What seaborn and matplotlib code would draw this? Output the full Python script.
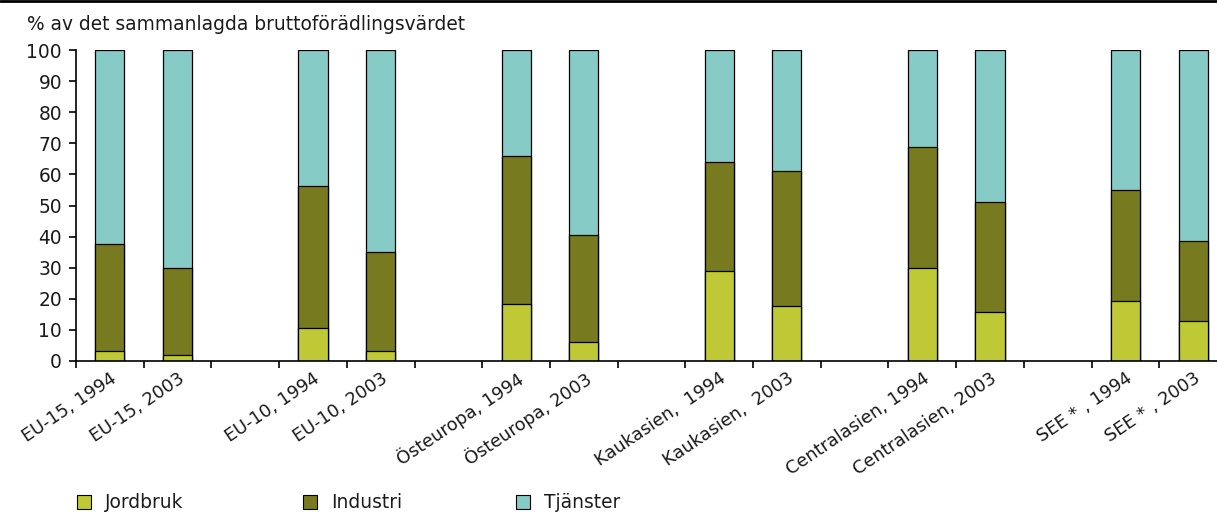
import numpy as np
import pandas as pd
import matplotlib
matplotlib.use("Agg")
import matplotlib.pyplot as plt
from matplotlib.patches import Rectangle
from matplotlib.lines import Line2D
from matplotlib.ticker import FixedLocator
import seaborn as sns

# Regions and years (shares of total gross value added, %)
categories = ["EU-15, 1994", "EU-15, 2003",
              "EU-10, 1994", "EU-10, 2003",
              "Östeuropa, 1994", "Östeuropa, 2003",
              "Kaukasien,  1994", "Kaukasien,  2003",
              "Centralasien, 1994", "Centralasien, 2003",
              "SEE * , 1994", "SEE * , 2003"]
jordbruk = [3.2, 1.8, 10.5, 3.3, 18.2, 6.2, 28.8, 17.7, 29.8, 15.8, 19.2, 12.9]
industri = [34.4, 28.0, 45.8, 31.7, 47.7, 34.2, 35.1, 43.3, 38.9, 35.2, 35.7, 25.6]
tjanster = [62.4, 70.2, 43.7, 65.0, 34.1, 59.6, 36.1, 39.0, 31.3, 49.0, 45.1, 61.5]
series_names = ["Jordbruk", "Industri", "Tjänster"]
y_ticks = list(range(0, 101, 10))
y_title = "% av det sammanlagda bruttoförädlingsvärdet"

colors = {"Jordbruk": "#BFC935", "Industri": "#787A1F", "Tjänster": "#86CBC6"}
text_color = "#1a1a1a"
fs = 13.4

sns.set_theme(style="white")
plt.rcParams["font.family"] = ["DejaVu Sans"]

df = pd.DataFrame({"cat": categories, "Jordbruk": jordbruk,
                   "Industri": industri, "Tjänster": tjanster})
df["c1"] = df["Jordbruk"]
df["c2"] = df["c1"] + df["Industri"]
df["c3"] = df["c2"] + df["Tjänster"]

# category order with an empty slot after each pair
order = []
for i in range(0, len(categories), 2):
    order += [categories[i], categories[i + 1]]
    if i + 2 < len(categories):
        order.append(" " * (i // 2 + 1))

fig = plt.figure(figsize=(12.17, 5.12), dpi=100)
W, H = 1217, 512
ax = fig.add_axes([76 / W, 151 / H, (1227 - 76) / W, 311 / H])

for col, name in [("c3", "Tjänster"), ("c2", "Industri"), ("c1", "Jordbruk")]:
    sns.barplot(data=df, x="cat", y=col, order=order, color=colors[name],
                width=0.43, edgecolor="black", linewidth=0.9,
                saturation=1, ax=ax, errorbar=None)

ax.set_xlim(-0.5, len(order) - 0.5)
ax.set_ylim(0, 100)
ax.set_yticks(y_ticks)
ax.set_ylabel("")
ax.set_xlabel("")

# labels at bar centres, tick marks at slot boundaries
ax.set_xticks(range(len(order)))
ax.set_xticklabels([c if c.strip() else "" for c in order], rotation=34,
                   ha="right", va="top", rotation_mode="anchor",
                   fontsize=12.8, color=text_color)
for lbl in ax.get_xticklabels():
    lbl.set_x(lbl.get_position()[0])
ax.xaxis.set_minor_locator(FixedLocator(np.arange(-0.5, len(order), 1.0)))
ax.tick_params(axis="x", which="major", length=0, pad=6)
ax.tick_params(axis="x", which="minor", length=5, width=1.2, color="black",
               direction="out", bottom=True)
ax.tick_params(axis="y", length=5, width=1.2, color="black", direction="out",
               left=True, labelsize=fs, labelcolor=text_color, pad=5)

for s in ["top", "right"]:
    ax.spines[s].set_visible(False)
for s in ["left", "bottom"]:
    ax.spines[s].set_color("black")
    ax.spines[s].set_linewidth(1.2)

fig.text(27 / W, 1 - 25 / H, y_title, fontsize=fs, color=text_color,
         ha="left", va="center")

# rule along the top edge
fig.add_artist(Line2D([0, 1], [1 - 1 / H, 1 - 1 / H], color="black",
                      linewidth=2, transform=fig.transFigure))

# legend row
legend_x = [77, 303, 516]
for x0, name in zip(legend_x, series_names):
    fig.add_artist(Rectangle((x0 / W, 1 - 509 / H), 14 / W, 14 / H,
                             facecolor=colors[name], edgecolor="black",
                             linewidth=0.8, transform=fig.transFigure))
    fig.text((x0 + 28) / W, 1 - 502 / H, name, fontsize=fs,
             color=text_color, ha="left", va="center")

fig.savefig("out.png", dpi=100)
